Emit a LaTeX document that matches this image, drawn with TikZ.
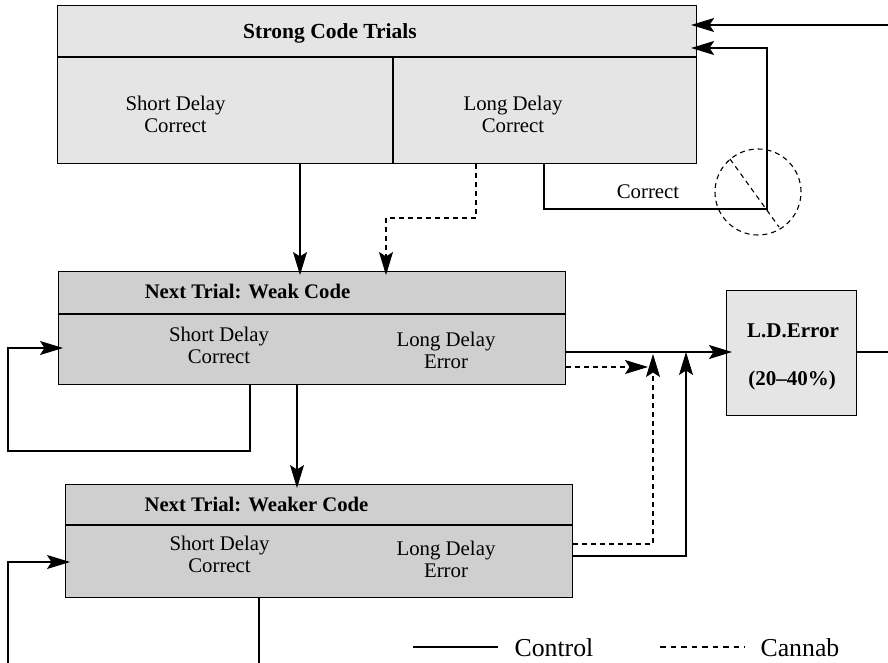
\documentclass[tikz,border=0pt]{standalone}
\usepackage{fontspec}
\setmainfont{Liberation Serif}
\usetikzlibrary{arrows.meta}
\definecolor{lightbox}{gray}{0.90}
\definecolor{darkbox}{gray}{0.81}
\begin{document}
\begin{tikzpicture}[x=1pt,y=-1pt,
  line width=1.1pt,
  box/.style={draw, line width=1.1pt, inner sep=0pt, anchor=north west},
  arr/.style={-{Stealth[length=23pt,width=14pt,inset=4.5pt]}, shorten >=-6pt},
  dsh/.style={dash pattern=on 5pt off 4pt},
  lbl/.style={font=\fontsize{20.8}{22}\selectfont, align=center, inner sep=0pt},
  ttl/.style={font=\fontsize{20.7}{22}\selectfont\bfseries, anchor=base, inner sep=0pt},
  ldt/.style={font=\fontsize{21}{22}\selectfont\bfseries, anchor=base, inner sep=0pt},
  leg/.style={font=\fontsize{25.8}{28}\selectfont, anchor=base west, inner sep=0pt}]
\useasboundingbox (0,0) rectangle (888,663);

% boxes
\node[box, fill=lightbox, minimum width=639pt, minimum height=158pt] (strong) at (57,5) {};
\node[box, fill=darkbox, minimum width=507pt, minimum height=113pt] (weak) at (58,271) {};
\node[box, fill=darkbox, minimum width=507pt, minimum height=113pt] (weaker) at (65,484) {};
\node[box, fill=lightbox, minimum width=130pt, minimum height=125pt] (ld) at (726,290) {};

% dividers
\draw (strong.west |- 0,57) -- (strong.east |- 0,57);
\draw (393,57) -- (strong.south -| 393,0);
\draw (weak.west |- 0,314) -- (weak.east |- 0,314);
\draw (weaker.west |- 0,525) -- (weaker.east |- 0,525);

% texts
\node[ttl, font=\fontsize{21.5}{22}\selectfont\bfseries] (t1) at (330,39) {Strong Code Trials};
\node[lbl] (s1) at (175.5,114) {Short Delay\\Correct};
\node[lbl] (l1) at (513,114) {Long Delay\\Correct};
\node[ttl] (t2) at (247.5,298) {Next Trial: Weak Code};
\node[lbl] (s2) at (219,345) {Short Delay\\Correct};
\node[lbl] (l2) at (446,350) {Long Delay\\Error};
\node[ttl] (t3) at (256.5,511) {Next Trial: Weaker Code};
\node[lbl] (s3) at (219.5,554) {Short Delay\\Correct};
\node[lbl] (l3) at (446,559) {Long Delay\\Error};
\node[ldt] (ld1) at (793,337) {L.D.Error};
\node[ldt] (ld2) at (792,385) {(20\textendash40\%)};
\node[lbl, anchor=base] (corr) at (648,198) {Correct};

% free ends
\coordinate (topin) at (888,25);
\coordinate (ldout) at (888,352);
\coordinate (bot1) at (259,663);
\coordinate (bot2) at (8,663);

% connectors
\draw[arr] (topin) -- (strong.east |- 0,25);
\draw[arr] (strong.south -| 544,0) |- (767,209) -- (767,48) -- (strong.east |- 0,48);
\draw[dsh] (758,192) circle[radius=43pt];
\draw[dsh] (730,159) -- (779,227);

\draw[arr, shorten >=-4pt] (strong.south -| 300,0) -- (weak.north -| 300,0);
\draw[arr, dsh, shorten >=-4pt] (strong.south -| 476,0) |- (386,218) -- (weak.north -| 386,0);

\draw[arr, shorten >=-5pt] (weak.south -| 250,0) |- (8,451) |- (weak.west |- 0,348);
\draw[arr, shorten >=-4pt] (weak.south -| 297,0) -- (weaker.north -| 297,0);

\draw[arr] (weak.east |- 0,352) -- (ld.west |- 0,352);
\draw[arr, dsh] (weak.east |- 0,367) -- (642,367);
\draw[arr, dsh] (weaker.east |- 0,544) -| (653,360);
\draw[arr] (weaker.east |- 0,556) -| (686,358);
\draw (ld.east |- 0,352) -- (ldout);

\draw (weaker.south -| 259,0) -- (bot1);
\draw[arr, shorten >=-5pt] (bot2) |- (weaker.west |- 0,562);

% legend
\coordinate (lga) at (413,647);
\coordinate (lgb) at (498,647);
\coordinate (lgc) at (660,647);
\coordinate (lgd) at (745,647);
\draw (lga) -- (lgb);
\node[leg] (control) at (514,656) {Control};
\draw[dash pattern=on 5.5pt off 5pt] (lgc) -- (lgd);
\node[leg] (cannab) at (760,656) {Cannab};
\end{tikzpicture}
\end{document}
